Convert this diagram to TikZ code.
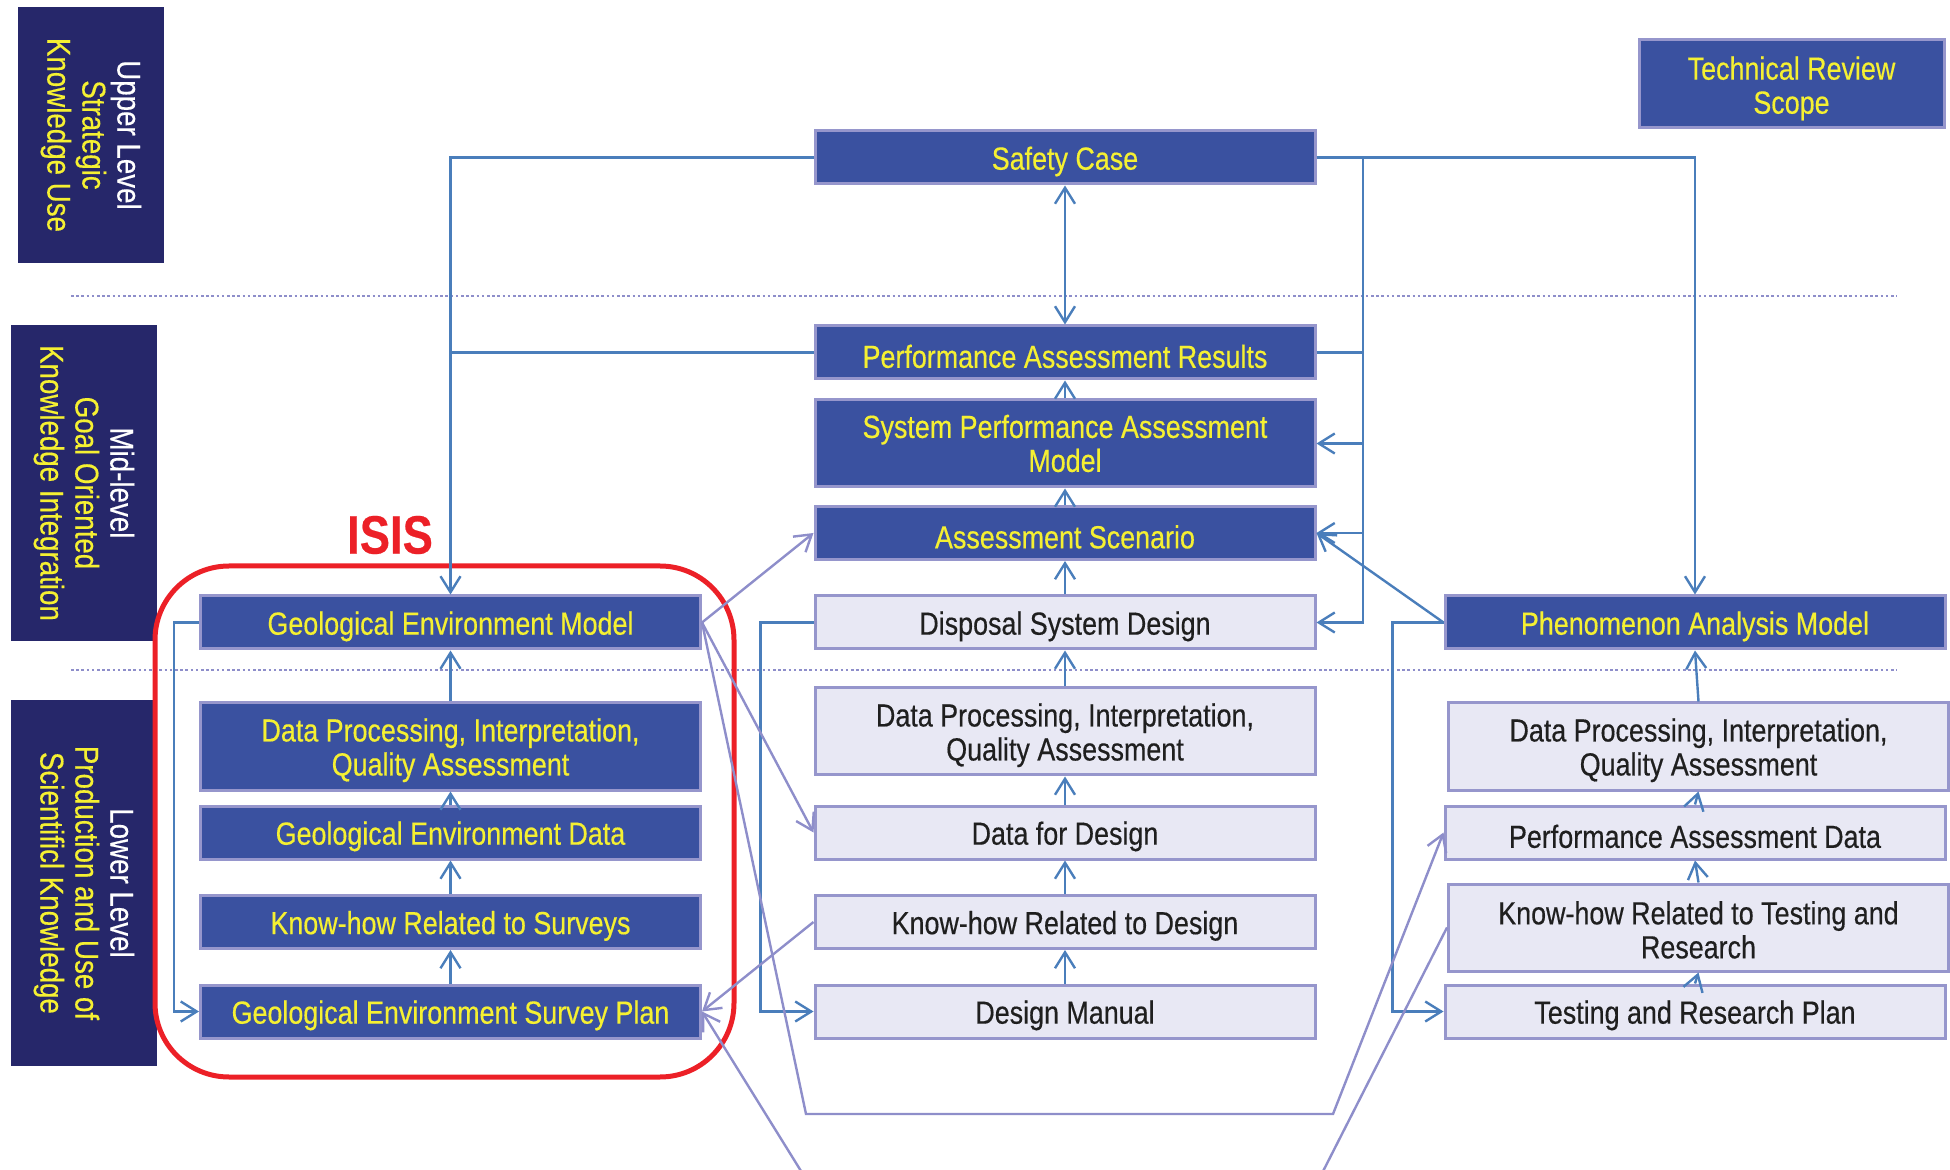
\documentclass[tikz,border=0pt]{standalone}
\usepackage{fontspec}
\setmainfont{Liberation Sans}[FakeStretch=0.84, FakeBold=0.4]
\usetikzlibrary{arrows.meta}

\definecolor{boxblue}{RGB}{58,81,160}
\definecolor{boxedge}{RGB}{150,150,204}
\definecolor{boxpale}{RGB}{232,232,244}
\definecolor{linkblue}{RGB}{74,126,187}
\definecolor{linklav}{RGB}{142,142,202}
\definecolor{txtyellow}{RGB}{245,240,50}
\definecolor{levelnavy}{RGB}{38,39,106}
\definecolor{isisred}{RGB}{236,32,39}

% taller first line, to sit two-line texts a little lower
\newcommand{\firstline}{\rule{0pt}{15.3pt}}

\tikzset{
  dark/.style={draw=boxedge, line width=1.5pt, fill=boxblue, text=txtyellow, minimum width=250pt,
    minimum height=26.5pt, inner sep=0pt, align=center, font=\fontsize{16}{17}\selectfont,
    execute at begin node={\rule{0pt}{15.5pt}}},
  pale/.style={dark, fill=boxpale, text=black!88},
  tall/.style={minimum height=43.5pt},
  level/.style={fill=levelnavy, text=txtyellow, inner sep=0pt, minimum height=73pt, align=center,
    rotate=-90, font=\fontsize{16.5}{17.5}\selectfont},
  plain/.style={draw=linkblue, line width=1.2pt},
  link/.style={plain, -{Straight Barb[length=8pt,width=10pt]}},
  twoway/.style={plain, {Straight Barb[length=8pt,width=10pt]}-{Straight Barb[length=8pt,width=10pt]}},
  cross/.style={draw=linklav, line width=1.2pt, -{Straight Barb[length=8pt,width=10pt]}},
  sep/.style={draw=linklav, line width=1.3pt, dash pattern=on 1.3pt off 1.3pt}
}

\begin{document}
\begin{tikzpicture}[x=0.5pt, y=-0.5pt]
\useasboundingbox (0,0) rectangle (1950,1170);
\clip (0,0) rectangle (1950,1170);

% level separators
\draw[sep] (71,296) -- (1897,296);
\draw[sep] (71,670) -- (1897,670);

% level labels
\node[level, minimum width=128pt] (upper) at (91,135) {{\color{white}Upper Level}\\Strategic\\Knowledge Use};
\node[level, minimum width=158pt] (mid) at (84,483) {{\color{white}Mid-level}\\Goal Oriented\\Knowledge Integration};
\node[level, minimum width=183pt] (lower) at (84,883) {{\color{white}Lower Level}\\Production and Use of\\Scientificl Knowledge};

\node[dark, minimum width=152.5pt, minimum height=44pt] (trs) at (1791.5,84) {\rule{0pt}{16pt}Technical Review\\Scope};

% centre column
\node[dark] (sc) at (1065,157.5) {Safety Case};
\node[dark] (par) at (1065,352.5) {Performance Assessment Results};
\node[dark, tall] (spam) at (1065,443.5) {System Performance Assessment\\Model};
\node[dark] (as) at (1065,533) {Assessment Scenario};
\node[pale] (dsd) at (1065,622.5) {Disposal System Design};
\node[pale, tall] (dpc) at (1065,731.5) {\firstline Data Processing, Interpretation,\\Quality Assessment};
\node[pale] (dfd) at (1065,832.5) {Data for Design};
\node[pale] (khd) at (1065,922) {Know-how Related to Design};
\node[pale] (dm) at (1065,1011.5) {Design Manual};

% left column (ISIS)
\node[dark] (gem) at (450.5,622.5) {Geological Environment Model};
\node[dark, tall] (dpl) at (450.5,746.5) {\firstline Data Processing, Interpretation,\\Quality Assessment};
\node[dark] (ged) at (450.5,832.5) {Geological Environment Data};
\node[dark] (khs) at (450.5,922) {Know-how Related to Surveys};
\node[dark] (gesp) at (450.5,1011.5) {Geological Environment Survey Plan};

% right column
\node[dark] (pam) at (1695,622.5) {Phenomenon Analysis Model};
\node[pale, tall] (dpr) at (1698.5,746.5) {\firstline Data Processing, Interpretation,\\Quality Assessment};
\node[pale] (pad) at (1695,832.5) {Performance Assessment Data};
\node[pale, tall] (khtr) at (1698.5,927.5) {\rule{0pt}{14pt}Know-how Related to Testing and\\Research};
\node[pale] (trp) at (1695,1011.5) {Testing and Research Plan};

\node[text=isisred, font=\fontsize{27}{27}\selectfont\bfseries] (isis) at (390,535) {ISIS};
\draw[isisred, line width=2.5pt, rounded corners=37pt] (155,566) rectangle (734,1077);

% links
\coordinate (busr) at (1363,157.5);
\draw[link] (sc.west) -| (gem.north);
\draw[plain] (par.west) -- (par.west -| gem.north);
\draw[link] (sc.east) -- (busr) |- (dsd.east);
\draw[plain] (par.east) -- (par.east -| busr);
\draw[link] (spam.east -| busr) -- (spam.east);
\draw[link] (as.east -| busr) -- (as.east);
\draw[link] (sc.east) -| (pam.north);
\draw[twoway] (sc.south) -- (par.north);

\foreach \a/\b in {par/spam, spam/as, as/dsd, dsd/dpc, dpc/dfd, dfd/khd, khd/dm,
                   gem/dpl, dpl/ged, ged/khs, khs/gesp,
                   pam/dpr, dpr/pad, pad/khtr, khtr/trp}
  \draw[link] (\b.north) -- (\a.south);

\draw[link] (pam.west) -- (as.east);
\draw[link] (pam.west) -- ++(-51,0) |- (trp.west);
\draw[link] (dsd.west) -- ++(-53,0) |- (dm.west);
\draw[link] (gem.west) -- ++(-25,0) |- (gesp.west);

% cross links
\coordinate (lowl) at (806,1114);
\coordinate (lowr) at (1333,1114);
\coordinate (offl) at (850,1250);
\coordinate (offr) at (1283,1250);
\draw[cross] (gem.east) -- (as.west);
\draw[cross] (gem.east) -- (dfd.west);
\draw[cross] (gem.east) -- (lowl) -- (lowr) -- (pad.west);
\draw[cross] (khd.west) -- (gesp.east);
\draw[cross] (khtr.west) -- (offr) -- (offl) -- (gesp.east);
\end{tikzpicture}
\end{document}
